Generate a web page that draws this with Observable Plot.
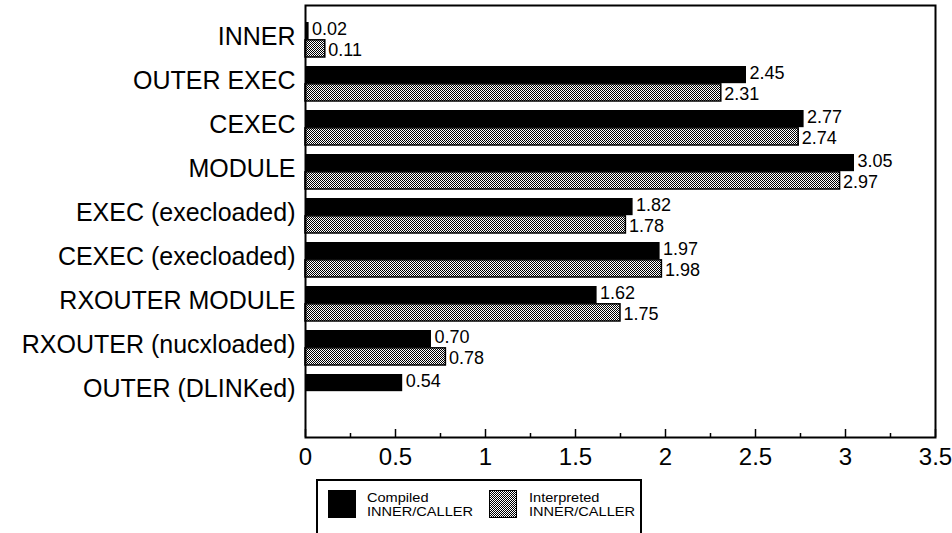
<!DOCTYPE html>
<html>
<head>
<meta charset="utf-8">
<script src="https://cdn.jsdelivr.net/npm/d3@7"></script>
<script src="https://cdn.jsdelivr.net/npm/@observablehq/plot@0.6"></script>
<style>
  html, body { margin: 0; padding: 0; background: white; }
  #wrap { position: relative; width: 952px; height: 533px; font-family: "Liberation Sans", Arial, sans-serif; }
  #legend { position: absolute; left: 316px; top: 479px; width: 326px; height: 56px; border: 2px solid black; box-sizing: border-box; background: white; }
  .sw { position: absolute; top: 9px; width: 28px; height: 28px; }
  .lt { position: absolute; top: 10px; font-size: 13px; line-height: 14px; color: black; transform: scaleX(1.12); transform-origin: left top; }
</style>
</head>
<body>
<div id="wrap">
  <div id="chart"></div>
  <div id="legend">
    <svg class="sw" style="left:10px" width="28" height="28"><rect x="0" y="0" width="28" height="28" fill="black"/></svg>
    <div class="lt" style="left:49px">Compiled<br>INNER/CALLER</div>
    <svg class="sw" style="left:171px" width="28" height="28">
      <defs><pattern id="checkLegend" width="2" height="2" patternUnits="userSpaceOnUse">
        <rect width="2" height="2" fill="white"/><rect width="1" height="1" fill="black"/><rect x="1" y="1" width="1" height="1" fill="black"/>
      </pattern></defs>
      <rect x="0.5" y="0.5" width="27" height="27" fill="url(#checkLegend)" stroke="black"/>
    </svg>
    <div class="lt" style="left:211px">Interpreted<br>INNER/CALLER</div>
  </div>
</div>
<script>
const categories = ["INNER", "OUTER EXEC", "CEXEC", "MODULE", "EXEC (execloaded)", "CEXEC (execloaded)", "RXOUTER MODULE", "RXOUTER (nucxloaded)", "OUTER (DLINKed)"];
const compiled = [0.02, 2.45, 2.77, 3.05, 1.82, 1.97, 1.62, 0.70, 0.54];
const interpreted = [0.11, 2.31, 2.74, 2.97, 1.78, 1.98, 1.75, 0.78, null];
const xTicks = [0, 0.5, 1, 1.5, 2, 2.5, 3, 3.5];
const minorTicks = [0.25, 0.75, 1.25, 1.75, 2.25, 2.75, 3.25];

const rows = categories.map((c, i) => ({category: c, compiled: compiled[i], interpreted: interpreted[i]}));
const compRows = rows.filter(d => d.compiled != null);
const intRows = rows.filter(d => d.interpreted != null);

const yRange = [11, 421];
const band = d3.scaleBand(categories, yRange).padding(0.2);
const half = band.bandwidth() / 2;

const H = 470, marginTop = 5, marginBottom = 33;
const innerH = H - marginTop - marginBottom;

const plot = Plot.plot({
  width: 952,
  height: H,
  marginLeft: 305,
  marginRight: 17,
  marginTop,
  marginBottom,
  style: {fontFamily: "'Liberation Sans', Arial, sans-serif", background: "white", color: "black"},
  x: {domain: [0, 3.5]},
  y: {domain: categories, range: yRange, padding: 0.2},
  marks: [
    Plot.barX(compRows, {x: "compiled", y: "category", fill: "black", insetBottom: half}),
    Plot.barX(intRows, {x: "interpreted", y: "category", fill: "url(#checkMain)", stroke: "black", strokeWidth: 1.5, insetTop: half}),
    Plot.text(compRows, {x: "compiled", y: "category", text: d => d.compiled.toFixed(2), dy: -half / 2 - 1.5, dx: 3, textAnchor: "start", fontSize: 18, fill: "black"}),
    Plot.text(intRows, {x: "interpreted", y: "category", text: d => d.interpreted.toFixed(2), dy: half / 2 + 1.5, dx: 3, textAnchor: "start", fontSize: 18, fill: "black"}),
    Plot.ruleX(xTicks, {x: d => d, stroke: "black", strokeWidth: 1.5, insetTop: innerH - 8}),
    Plot.ruleX(minorTicks, {x: d => d, stroke: "black", strokeWidth: 1.5, insetTop: innerH - 4}),
    Plot.frame({stroke: "black", strokeWidth: 2}),
    Plot.axisX(xTicks, {tickSize: 0, tickPadding: 10, fontSize: 24, tickFormat: d => String(d), label: null}),
    Plot.axisY({tickSize: 0, tickPadding: 10, fontSize: 25, dy: -3, label: null})
  ]
});

const svg = d3.select(plot);
const defs = svg.insert("defs", ":first-child");
const pat = defs.append("pattern").attr("id", "checkMain").attr("width", 2).attr("height", 2).attr("patternUnits", "userSpaceOnUse");
pat.append("rect").attr("width", 2).attr("height", 2).attr("fill", "white");
pat.append("rect").attr("width", 1).attr("height", 1).attr("fill", "black");
pat.append("rect").attr("x", 1).attr("y", 1).attr("width", 1).attr("height", 1).attr("fill", "black");

document.getElementById("chart").appendChild(plot);
</script>
</body>
</html>
